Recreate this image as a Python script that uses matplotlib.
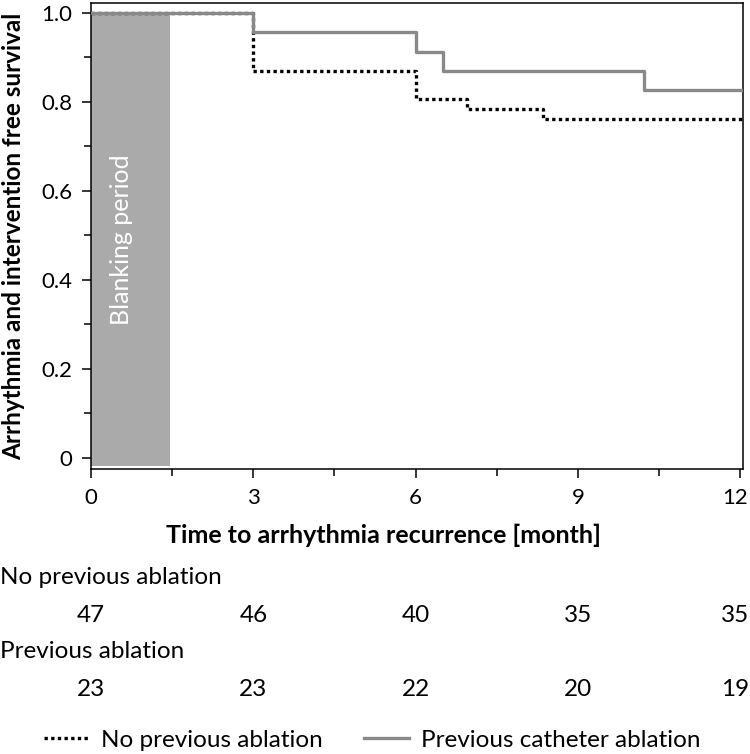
import matplotlib
matplotlib.use("Agg")
import matplotlib.pyplot as plt
import matplotlib.transforms as mtransforms
from matplotlib.lines import Line2D
from matplotlib.ticker import MultipleLocator, FixedLocator

plt.rcParams['font.family'] = ['Lato', 'DejaVu Sans']

# Data
prev_t = [0, 3, 6, 6.5, 10.22, 12.05]
prev_s = [1.0, 0.957, 0.913, 0.870, 0.827, 0.827]
noprev_t = [0, 3, 6, 6.95, 8.35, 12.05]
noprev_s = [1.0, 0.870, 0.807, 0.784, 0.762, 0.762]

risk_times = [0, 3, 6, 9, 12]
risk_noprev = [47, 46, 40, 35, 35]
risk_prev = [23, 23, 22, 20, 19]

blank_end = 1.46

W, H = 750, 754
fig = plt.figure(figsize=(W / 100, H / 100), dpi=100)
ax = fig.add_axes([91 / W, 1 - 469 / H, (743 - 91) / W, (469 - 3) / H])

ax.fill_between([0, blank_end], -0.018, 1.0, color='#aaaaaa', lw=0, zorder=1)
ax.text(0.56, 0.49, 'Blanking period', rotation=90, color='white',
        ha='center', va='center', fontsize=18, zorder=2)

ax.step(noprev_t, noprev_s, where='post', color='black', lw=2.4,
        linestyle=(0, (1, 1)), zorder=3)
ax.step(prev_t, prev_s, where='post', color='#898989', lw=2.4, zorder=4)

ax.set_xlim(0, 12.05)
ax.set_ylim(-0.025, 1.022)
ax.xaxis.set_major_locator(FixedLocator([0, 3, 6, 9, 12]))
ax.xaxis.set_minor_locator(MultipleLocator(1.5))
ax.yaxis.set_major_locator(FixedLocator([0, 0.2, 0.4, 0.6, 0.8, 1.0]))
ax.yaxis.set_minor_locator(MultipleLocator(0.1))
ax.set_yticklabels(['0', '0.2', '0.4', '0.6', '0.8', '1.0'])
ax.set_xticklabels(['0', '3', '6', '9', '12'])
ax.tick_params(which='major', direction='out', length=6.5, width=1.1, labelsize=16, pad=7)
ax.tick_params(which='minor', direction='out', length=5, width=1.1)
for sp in ax.spines.values():
    sp.set_linewidth(1.1)

# keep the last x tick label inside the figure edge
shift = mtransforms.ScaledTranslation(-5 / 100, 0, fig.dpi_scale_trans)
last_lbl = ax.get_xticklabels()[-1]
last_lbl.set_transform(last_lbl.get_transform() + shift)

ax.set_ylabel('Arrhythmia and intervention free survival', fontsize=17.5,
              fontweight='bold')
ax.yaxis.set_label_coords(-(91 - 25) / (743 - 91), 0.5)
fig.text(383 / W, 1 - 535 / H, 'Time to arrhythmia recurrence [month]', fontsize=18,
         fontweight='bold', ha='center', va='center')

# At-risk table
fs = 17.5
trans = mtransforms.blended_transform_factory(ax.transData, fig.transFigure)
fig.text(0, 1 - 577 / H, 'No previous ablation', fontsize=fs, ha='left', va='center')
fig.text(0, 1 - 652 / H, 'Previous ablation', fontsize=fs, ha='left', va='center')
for row, ypix in ((risk_noprev, 615), (risk_prev, 690)):
    for i, (t, n) in enumerate(zip(risk_times, row)):
        tr = trans + shift if i == len(risk_times) - 1 else trans
        ax.text(t, 1 - ypix / H, str(n), transform=tr, fontsize=fs, ha='center',
                va='center', clip_on=False)

handles = [Line2D([], [], color='black', lw=2.4, linestyle=(0, (1, 1))),
           Line2D([], [], color='#898989', lw=2.4)]
fig.legend(handles, ['No previous ablation', 'Previous catheter ablation'],
           loc='center', bbox_to_anchor=(372 / W, 1 - 740 / H), ncol=2,
           frameon=False, fontsize=fs, handlelength=1.85, handletextpad=0.5,
           columnspacing=1.7, borderpad=0, borderaxespad=0)

fig.savefig('out.png', dpi=100)
